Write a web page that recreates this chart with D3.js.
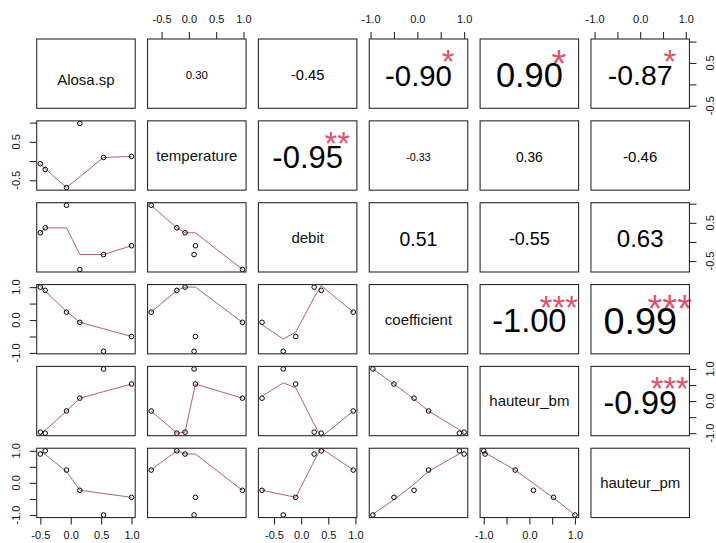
<!DOCTYPE html>
<html>
<head>
<meta charset="utf-8">
<script src="https://cdn.jsdelivr.net/npm/d3@7"></script>
<style>
  html, body { margin: 0; padding: 0; background: #fff; }
  svg { display: block; }
</style>
</head>
<body>
<svg id="chart" width="716" height="543"></svg>
<script>
// Variables of the scatterplot matrix, in display order
const variables = ["Alosa.sp", "temperature", "debit", "coefficient", "hauteur_bm", "hauteur_pm"];

// Observations (six sampling dates) for each variable
const alosa       = [-0.50, -0.42, -0.07,  0.15,  0.54,  1.00];
const temperature = [-0.07, -0.22, -0.69,  0.98,  0.095, 0.12];
const debit       = [ 0.24,  0.37,  0.96, -0.72, -0.33, -0.10];
const coefficient = [ 1.00,  0.90,  0.24, -0.07, -0.95, -0.50];
const hauteurBm   = [-0.97, -1.00, -0.31,  0.09,  1.00,  0.53];
const hauteurPm   = [ 0.90,  1.00,  0.40, -0.23, -1.00, -0.45];

// Pearson correlations of the upper triangle (row by row) and their significance codes
const correlations = [0.30, -0.45, -0.90, 0.90, -0.87,
                      -0.95, -0.33, 0.36, -0.46,
                      0.51, -0.55, 0.63,
                      -1.00, 0.99,
                      -0.99];
const significance = ["", "", "*", "*", "*",
                      "**", "", "", "",
                      "", "", "",
                      "***", "***",
                      "***"];

// Axis ticks per variable and the labels printed on the outer axes ("" = tick only)
const ticksHalf  = [-0.5, 0, 0.5, 1];
const ticksFull  = [-1, -0.5, 0, 0.5, 1];
const labelsHalfAll  = ["-0.5", "0.0", "0.5", "1.0"];
const labelsHalfAlt  = ["-0.5", "", "0.5", ""];
const labelsFullAlt  = ["-1.0", "", "0.0", "", "1.0"];

const series = [alosa, temperature, debit, coefficient, hauteurBm, hauteurPm];
const tickSets = [ticksHalf, ticksHalf, ticksHalf, ticksFull, ticksFull, ticksFull];

// Outer axes: top (even columns), bottom (odd columns), left (even rows), right (odd rows)
const topAxes    = {1: labelsHalfAll, 3: labelsFullAlt, 5: labelsFullAlt};
const bottomAxes = {0: labelsHalfAll, 2: labelsHalfAll, 4: labelsFullAlt};
const leftAxes   = {1: labelsHalfAlt, 3: labelsFullAlt, 5: labelsFullAlt};
const rightAxes  = {0: labelsHalfAlt, 2: labelsHalfAlt, 4: labelsFullAlt};

// Layout
const left0 = 36.7, colPitch = 110.85, pw = 98.5;
const top0 = 39, rowPitch = 81.85, ph = 69.3;
const font = "'Liberation Sans', Arial, Helvetica, sans-serif";
const smoothColor = "#b4606c";
const starColor = "#DF536B";
const boxColor = "#2b2b2b";
const tickFont = 11;

const svg = d3.select("#chart");
svg.append("rect").attr("width", 716).attr("height", 543).attr("fill", "#fff");

// Per-variable scales padded by 4% of the range on each side
const xScales = series.map(v => {
  const [lo, hi] = d3.extent(v), pad = 0.04 * (hi - lo);
  return d3.scaleLinear().domain([lo - pad, hi + pad]).range([0, pw]);
});
const yScales = series.map(v => {
  const [lo, hi] = d3.extent(v), pad = 0.04 * (hi - lo);
  return d3.scaleLinear().domain([lo - pad, hi + pad]).range([ph, 0]);
});

// Locally weighted regression (lowess, span 2/3, 3 robustness iterations)
function lowess(xIn, yIn, f = 2 / 3, iter = 3) {
  const order = d3.range(xIn.length).sort((a, b) => xIn[a] - xIn[b]);
  const x = order.map(i => xIn[i]), y = order.map(i => yIn[i]);
  const n = x.length;
  const ns = Math.max(2, Math.min(n, Math.floor(f * n + 1e-7)));
  const delta = 0.01 * (x[n - 1] - x[0]);
  const ys = new Array(n).fill(0), rw = new Array(n).fill(1), res = new Array(n).fill(0);
  const w = new Array(n).fill(0);
  const sc = d3.sum(y, v => Math.abs(v)) / n;

  function lowest(xs, nleft, nright, userw) {
    const range = x[n - 1] - x[0];
    const h = Math.max(xs - x[nleft], x[nright] - xs);
    const h9 = 0.999 * h, h1 = 0.001 * h;
    let a = 0, j = nleft;
    while (j < n) {
      w[j] = 0;
      const r = Math.abs(x[j] - xs);
      if (r <= h9) {
        w[j] = r <= h1 ? 1 : Math.pow(1 - Math.pow(r / h, 3), 3);
        if (userw) w[j] *= rw[j];
        a += w[j];
      } else if (x[j] > xs) break;
      j++;
    }
    const nrt = j - 1;
    if (a <= 0) return null;
    for (let k = nleft; k <= nrt; k++) w[k] /= a;
    if (h > 0) {
      let m = 0;
      for (let k = nleft; k <= nrt; k++) m += w[k] * x[k];
      let b = xs - m, c = 0;
      for (let k = nleft; k <= nrt; k++) c += w[k] * (x[k] - m) * (x[k] - m);
      if (Math.sqrt(c) > 0.001 * range) {
        b /= c;
        for (let k = nleft; k <= nrt; k++) w[k] *= (b * (x[k] - m) + 1);
      }
    }
    let out = 0;
    for (let k = nleft; k <= nrt; k++) out += w[k] * y[k];
    return out;
  }

  for (let it = 1; it <= iter + 1; it++) {
    let nleft = 0, nright = ns - 1, last = -1, i = 0;
    do {
      while (nright < n - 1) {
        const d1 = x[i] - x[nleft], d2 = x[nright + 1] - x[i];
        if (d1 <= d2) break;
        nleft++; nright++;
      }
      const v = lowest(x[i], nleft, nright, it > 1);
      ys[i] = v === null ? y[i] : v;
      if (last < i - 1) {
        const denom = x[i] - x[last];
        for (let j = last + 1; j < i; j++) {
          const alpha = (x[j] - x[last]) / denom;
          ys[j] = alpha * ys[i] + (1 - alpha) * ys[last];
        }
      }
      last = i;
      const cut = x[last] + delta;
      for (i = last + 1; i < n; i++) {
        if (x[i] > cut) break;
        if (x[i] === x[last]) { ys[i] = ys[last]; last = i; }
      }
      i = Math.max(last + 1, i - 1);
    } while (last < n - 1);
    for (let k = 0; k < n; k++) res[k] = y[k] - ys[k];
    if (it > iter) break;
    const ar = res.map(Math.abs);
    const sorted = ar.slice().sort((a, b) => a - b);
    const m1 = Math.floor(n / 2);
    const cmad = n % 2 === 0 ? 3 * (sorted[m1] + sorted[m1 - 1]) : 6 * sorted[m1];
    if (cmad < 1e-7 * sc) break;
    const c9 = 0.999 * cmad, c1 = 0.001 * cmad;
    for (let k = 0; k < n; k++) {
      const r = ar[k];
      rw[k] = r <= c1 ? 1 : (r <= c9 ? Math.pow(1 - Math.pow(r / cmad, 2), 2) : 0);
    }
  }
  return x.map((v, k) => [v, ys[k]]);
}

// Measure a string's width at a given font size
const measurer = svg.append("text").attr("font-family", font).attr("visibility", "hidden");
function textWidth(str, size) {
  measurer.attr("font-size", size).text(str);
  return measurer.node().getComputedTextLength();
}

const fmt = v => (v < 0 ? "-" : "") + Math.abs(v).toFixed(2);

let corrIndex = 0;
const nv = variables.length;
for (let i = 0; i < nv; i++) {
  for (let j = 0; j < nv; j++) {
    const g = svg.append("g")
      .attr("transform", `translate(${left0 + j * colPitch},${top0 + i * rowPitch})`);

    if (i === j) {
      // the first name sits slightly below the middle of its box
      const dy = i === 0 ? 6 : 0;
      g.append("text")
        .attr("x", pw / 2).attr("y", ph / 2 + 5.4 + dy)
        .attr("text-anchor", "middle")
        .attr("font-family", font).attr("font-size", 15)
        .attr("fill", "#111")
        .text(variables[i]);
    } else if (i < j) {
      const r = correlations[corrIndex], stars = significance[corrIndex];
      corrIndex++;
      const txt = fmt(r);
      const base = 100 * (0.755 * pw) / textWidth(txt, 100);
      const size = base * Math.abs(r);
      g.append("text")
        .attr("x", pw / 2).attr("y", ph / 2 + 1.5 + 0.355 * size)
        .attr("text-anchor", "middle")
        .attr("font-family", font).attr("font-size", size)
        .attr("fill", "#000")
        .text(txt);
      if (stars) {
        g.append("text")
          .attr("x", 0.8 * pw).attr("y", ph * 0.2 + 0.62 * base)
          .attr("text-anchor", "middle")
          .attr("font-family", font).attr("font-size", base)
          .attr("fill", starColor)
          .text(stars);
      }
    } else {
      const xs = xScales[j], ys = yScales[i];
      const pts = series[j].map((v, k) => [v, series[i][k]]);
      const smooth = lowess(series[j], series[i]);
      g.append("path")
        .attr("d", d3.line().x(d => xs(d[0])).y(d => ys(d[1]))(smooth))
        .attr("fill", "none").attr("stroke", smoothColor).attr("stroke-width", 1);
      g.selectAll("circle").data(pts).join("circle")
        .attr("cx", d => xs(d[0])).attr("cy", d => ys(d[1]))
        .attr("r", 2.3)
        .attr("fill", "none").attr("stroke", "#000").attr("stroke-width", 1);
    }

    g.append("rect")
      .attr("width", pw).attr("height", ph)
      .attr("fill", "none").attr("stroke", boxColor).attr("stroke-width", 1.1);

    // Outer axes
    const styleAxis = sel => {
      sel.select(".domain").remove();
      sel.selectAll(".tick line").attr("stroke", boxColor).attr("stroke-width", 1.1);
      sel.selectAll(".tick text").attr("font-family", font).attr("font-size", tickFont).attr("fill", "#111");
    };
    if (i === 0 && topAxes[j]) {
      const labels = topAxes[j];
      g.append("g").call(d3.axisTop(xScales[j]).tickValues(tickSets[j]).tickSize(7)
        .tickPadding(8.6).tickFormat((d, k) => labels[k])).call(styleAxis);
    }
    if (i === nv - 1 && bottomAxes[j]) {
      const labels = bottomAxes[j];
      g.append("g").attr("transform", `translate(0,${ph})`)
        .call(d3.axisBottom(xScales[j]).tickValues(tickSets[j]).tickSize(7)
        .tickPadding(7).tickFormat((d, k) => labels[k])).call(styleAxis);
    }
    if (j === 0 && leftAxes[i]) {
      const labels = leftAxes[i], sc = yScales[i];
      g.append("g").call(d3.axisLeft(sc).tickValues(tickSets[i]).tickSize(7)
        .tickFormat("")).call(styleAxis);
      g.selectAll(null).data(tickSets[i]).join("text")
        .attr("transform", d => `translate(${-16.5},${sc(d)}) rotate(-90)`)
        .attr("text-anchor", "middle")
        .attr("font-family", font).attr("font-size", tickFont).attr("fill", "#111")
        .text((d, k) => labels[k]);
    }
    if (j === nv - 1 && rightAxes[i]) {
      const labels = rightAxes[i], sc = yScales[i];
      g.append("g").attr("transform", `translate(${pw},0)`)
        .call(d3.axisRight(sc).tickValues(tickSets[i]).tickSize(7)
        .tickFormat("")).call(styleAxis);
      g.selectAll(null).data(tickSets[i]).join("text")
        .attr("transform", d => `translate(${pw + 24.5},${sc(d)}) rotate(-90)`)
        .attr("text-anchor", "middle")
        .attr("font-family", font).attr("font-size", tickFont).attr("fill", "#111")
        .text((d, k) => labels[k]);
    }
  }
}
measurer.remove();
</script>
</body>
</html>
